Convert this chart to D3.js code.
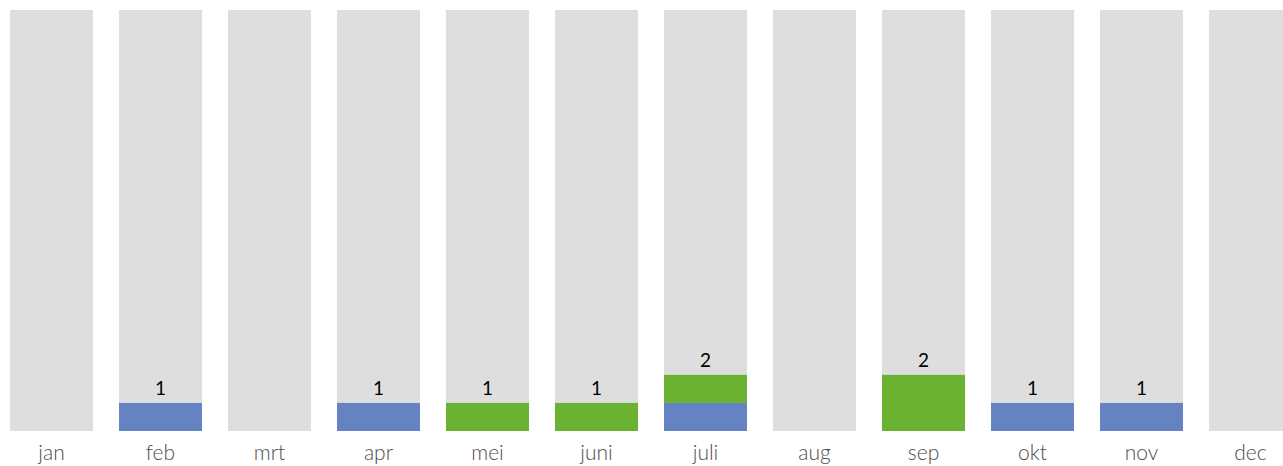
<!DOCTYPE html>
<html><head><meta charset="utf-8">
<script src="https://cdn.jsdelivr.net/npm/d3@7"></script>
<style>html,body{margin:0;padding:0;background:#fff;overflow:hidden}</style>
</head><body>
<svg id="c" width="1283" height="466"></svg>
<script>
const months = ["jan","feb","mrt","apr","mei","juni","juli","aug","sep","okt","nov","dec"];
const blueValues = [0,1,0,1,0,0,1,0,0,1,1,0];
const greenValues = [0,0,0,0,1,1,1,0,2,0,0,0];
const maxValue = 15;

const svg = d3.select("#c");
const x = d3.scaleBand().domain(months).range([10, 1292]).paddingInner(26/109).paddingOuter(0).align(0);
const y = d3.scaleLinear().domain([0, maxValue]).range([431, 10]);

svg.selectAll("rect.bg").data(months).join("rect").attr("class","bg")
  .attr("x", d => x(d)).attr("width", x.bandwidth())
  .attr("y", y(maxValue)).attr("height", y(0) - y(maxValue)).attr("fill", "#dedede");

const data = months.map((m,i) => ({m, b: blueValues[i], g: greenValues[i]}));
svg.selectAll("rect.blue").data(data.filter(d => d.b > 0)).join("rect").attr("class","blue")
  .attr("x", d => x(d.m)).attr("width", x.bandwidth())
  .attr("y", d => y(d.b)).attr("height", d => y(0) - y(d.b)).attr("fill", "#6583c3");
svg.selectAll("rect.green").data(data.filter(d => d.g > 0)).join("rect").attr("class","green")
  .attr("x", d => x(d.m)).attr("width", x.bandwidth())
  .attr("y", d => y(d.b + d.g)).attr("height", d => y(d.b) - y(d.b + d.g)).attr("fill", "#6ab22f");

svg.selectAll("text.val").data(data.filter(d => d.b + d.g > 0)).join("text").attr("class","val")
  .attr("x", d => x(d.m) + x.bandwidth()/2).attr("y", d => y(d.b + d.g) - 8)
  .attr("text-anchor","middle").attr("font-family","Lato, sans-serif")
  .attr("font-weight", 400)
  .attr("font-size", 19).attr("fill","#000").text(d => d.b + d.g);

svg.selectAll("text.lab").data(months).join("text").attr("class","lab")
  .attr("x", d => x(d) + x.bandwidth()/2).attr("y", 460)
  .attr("text-anchor","middle").attr("font-family","Lato, sans-serif")
  .attr("font-weight", 300)
  .attr("font-size", 21).attr("fill","#4d4d4d").text(d => d);
</script>
</body></html>
